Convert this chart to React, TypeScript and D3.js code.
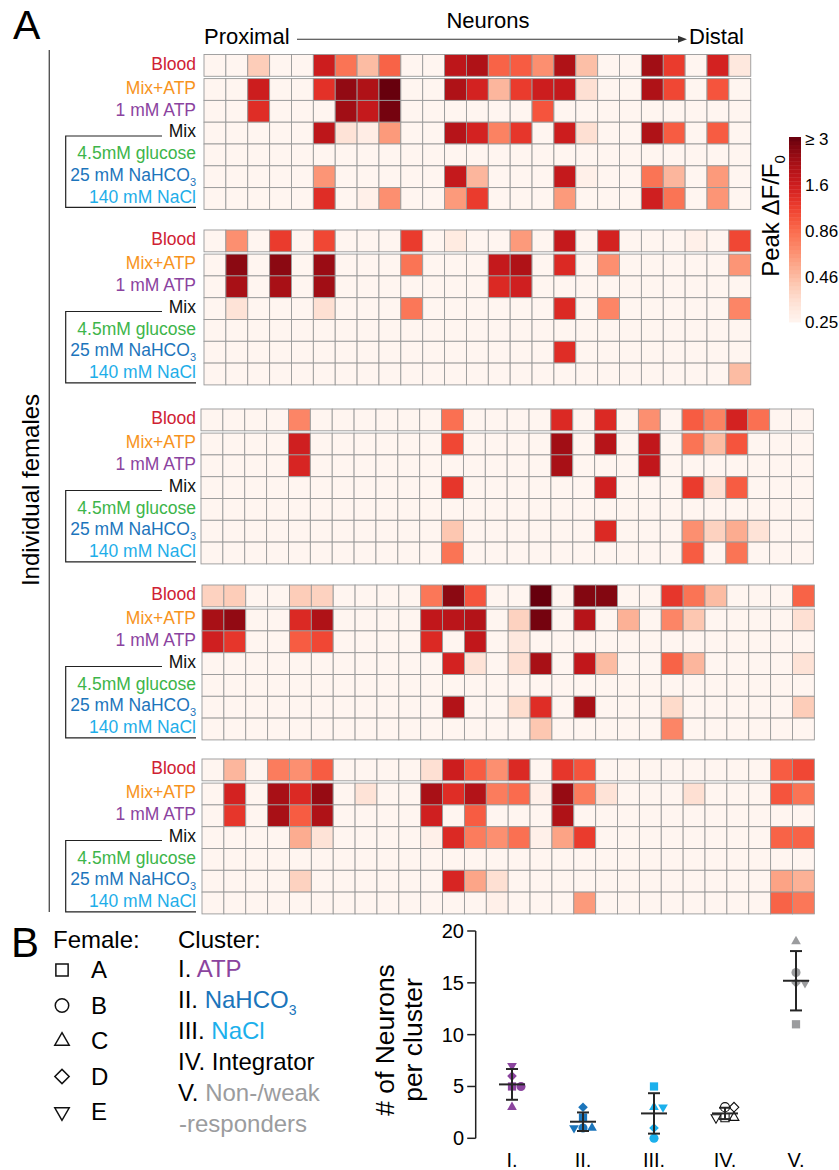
import React from 'react';
import * as d3 from 'd3';

// stimuli, top to bottom in every heatmap panel
const stimuli = ['Blood', 'Mix+ATP', '1 mM ATP', 'Mix', '4.5mM glucose', '25 mM NaHCO', '140 mM NaCl'];
const stimulusColors = ['#cf2133', '#f7941d', '#8b43a0', '#111111', '#3db54a', '#1c75bc', '#1eaee9'];

// peak dF/F0 of each neuron (0 = no response); rows follow `stimuli`
const femaleA = [
  [0, 0, 0.4, 0, 0, 1.6, 0.8, 0.46, 0.9, 0, 0, 1.8, 2.0, 0.9, 0.95, 0.65, 2.0, 0.45, 0, 0, 2.2, 1.2, 0, 1.5, 0.3],
  [0, 0, 1.6, 0, 0, 1.3, 2.4, 2.0, 3.0, 0, 0, 2.0, 1.5, 0.48, 1.2, 1.6, 1.7, 0.33, 0, 0, 2.0, 1.1, 0, 1.0, 0],
  [0, 0, 1.35, 0, 0, 0, 2.2, 1.7, 2.8, 0, 0, 0, 0, 0, 0, 1.0, 0, 0, 0, 0, 0, 0, 0, 0, 0],
  [0, 0, 0, 0, 0, 1.8, 0.32, 0.28, 0.6, 0, 0, 1.9, 1.5, 0.72, 1.25, 0, 1.6, 0.33, 0, 0, 2.0, 0.95, 0, 0.95, 0],
  [0, 0, 0, 0, 0, 0, 0, 0, 0, 0, 0, 0, 0, 0, 0, 0, 0, 0, 0, 0, 0, 0, 0, 0, 0],
  [0, 0, 0, 0, 0, 0.62, 0, 0, 0, 0, 0, 1.7, 0.48, 0, 0, 0, 1.7, 0.27, 0, 0, 0.8, 0.48, 0, 0.6, 0],
  [0, 0, 0, 0, 0, 1.35, 0, 0.27, 0.65, 0, 0, 0.6, 1.2, 0, 0, 0, 0.6, 0, 0, 0, 1.55, 0.8, 0, 0.62, 0],
];
const femaleB = [
  [0, 0.65, 0, 1.2, 0, 1.1, 0, 0, 0, 1.2, 0, 0.29, 0, 0, 0.6, 0, 1.7, 0, 1.5, 0, 0, 0, 0.27, 0, 1.1],
  [0, 2.5, 0, 2.5, 0, 2.3, 0, 0, 0, 0.8, 0, 0, 0, 1.7, 2.0, 0, 1.4, 0, 0.65, 0, 0, 0, 0, 0, 0.62],
  [0, 2.1, 0, 2.1, 0, 2.2, 0, 0, 0, 0, 0, 0, 0, 1.4, 1.55, 0, 0, 0, 0, 0, 0, 0, 0, 0, 0],
  [0, 0.32, 0, 0, 0, 0.33, 0, 0, 0, 0.78, 0, 0, 0, 0, 0, 0, 1.4, 0, 0.7, 0, 0, 0, 0, 0, 0.7],
  [0, 0, 0, 0, 0, 0, 0, 0, 0, 0, 0, 0, 0, 0, 0, 0, 0, 0, 0, 0, 0, 0, 0, 0, 0],
  [0, 0, 0, 0, 0, 0, 0, 0, 0, 0, 0, 0, 0, 0, 0, 0, 1.35, 0, 0, 0, 0, 0, 0, 0, 0],
  [0, 0, 0, 0, 0, 0, 0, 0, 0, 0, 0, 0, 0, 0, 0, 0, 0, 0, 0, 0, 0, 0, 0, 0, 0.46],
];
const femaleC = [
  [0, 0, 0, 0, 0.7, 0, 0, 0, 0, 0, 0, 0.82, 0, 0, 0, 0, 1.4, 0, 1.4, 0, 0.65, 0, 0.95, 0.72, 1.5, 0.82, 0, 0],
  [0, 0, 0, 0, 1.55, 0, 0, 0, 0, 0, 0, 1.1, 0, 0, 0, 0, 2.2, 0, 1.9, 0, 1.75, 0, 0.8, 0.46, 1.0, 0, 0, 0],
  [0, 0, 0, 0, 1.45, 0, 0, 0, 0, 0, 0, 0, 0, 0, 0, 0, 2.1, 0, 0, 0, 1.75, 0, 0, 0, 0, 0, 0, 0],
  [0, 0, 0, 0, 0, 0, 0, 0, 0, 0, 0, 1.25, 0, 0, 0, 0, 0, 0, 1.55, 0, 0, 0, 1.2, 0.33, 0.95, 0, 0, 0],
  [0, 0, 0, 0, 0, 0, 0, 0, 0, 0, 0, 0, 0, 0, 0, 0, 0, 0, 0, 0, 0, 0, 0, 0, 0, 0, 0, 0],
  [0, 0, 0, 0, 0, 0, 0, 0, 0, 0, 0, 0.42, 0, 0, 0, 0, 0, 0, 1.4, 0, 0, 0, 0.65, 0.38, 0.52, 0.32, 0, 0],
  [0, 0, 0, 0, 0, 0, 0, 0, 0, 0, 0, 0.8, 0, 0, 0, 0, 0, 0, 0, 0, 0, 0, 0.95, 0, 0.8, 0, 0, 0],
];
const femaleD = [
  [0.38, 0.4, 0, 0, 0.4, 0.38, 0, 0, 0, 0, 0.78, 2.5, 1.0, 0, 0, 3.0, 0, 2.6, 2.6, 0, 0, 1.25, 0.8, 0.46, 0, 0, 0, 0.9],
  [2.1, 2.4, 0, 0, 1.4, 2.0, 0, 0, 0, 0, 1.75, 1.85, 1.95, 0, 0.38, 2.8, 0, 1.9, 0, 0.5, 0, 0.7, 0.42, 0, 0, 0, 0, 0.33],
  [1.55, 1.25, 0, 0, 0.95, 1.1, 0, 0, 0, 0, 1.4, 0, 1.75, 0, 0.3, 0, 0, 0, 0, 0, 0, 0, 0, 0, 0, 0, 0, 0],
  [0, 0, 0, 0, 0, 0, 0, 0, 0, 0, 0, 1.5, 0.32, 0, 0.33, 2.1, 0, 1.75, 0.46, 0, 0, 0.9, 0.48, 0, 0, 0, 0, 0.32],
  [0, 0, 0, 0, 0, 0, 0, 0, 0, 0, 0, 0, 0, 0, 0, 0, 0, 0, 0, 0, 0, 0, 0, 0, 0, 0, 0, 0],
  [0, 0, 0, 0, 0, 0, 0, 0, 0, 0, 0, 1.95, 0, 0, 0.34, 1.35, 0, 2.1, 0, 0, 0, 0.35, 0, 0, 0, 0, 0, 0.4],
  [0, 0, 0, 0, 0, 0, 0, 0, 0, 0, 0, 0, 0, 0, 0, 0.42, 0, 0, 0, 0, 0, 0.7, 0, 0, 0, 0, 0, 0],
];
const femaleE = [
  [0, 0.48, 0, 0.75, 0.65, 0.95, 0, 0, 0, 0, 0.33, 1.6, 0.95, 0.65, 1.4, 0, 1.25, 1.0, 0, 0, 0, 0, 0, 0, 0, 0, 0.95, 1.1],
  [0, 1.5, 0, 2.1, 1.4, 2.35, 0, 0.32, 0, 0, 2.1, 1.35, 1.95, 0.75, 0.85, 0.27, 2.35, 0.75, 0.32, 0, 0, 0, 0.33, 0, 0, 0, 1.0, 0.8],
  [0, 1.25, 0, 2.1, 0.95, 2.0, 0, 0, 0, 0, 1.55, 0, 0.95, 0, 0, 0, 2.0, 0, 0, 0, 0, 0, 0, 0, 0, 0, 0, 0],
  [0, 0, 0, 0, 0.52, 0.32, 0, 0, 0, 0, 0.27, 1.4, 0.75, 0.65, 0.82, 0.27, 0.56, 1.2, 0, 0, 0, 0, 0, 0, 0, 0, 0.9, 0.9],
  [0, 0, 0, 0, 0, 0, 0, 0, 0, 0, 0, 0, 0, 0, 0, 0, 0, 0, 0, 0, 0, 0, 0, 0, 0, 0, 0, 0],
  [0, 0, 0, 0, 0.38, 0, 0, 0, 0, 0, 0, 1.45, 0.55, 0.33, 0, 0, 0, 0, 0, 0, 0, 0, 0, 0, 0, 0, 0.56, 0.5],
  [0, 0, 0, 0, 0, 0, 0, 0, 0, 0, 0, 0, 0, 0.27, 0, 0, 0, 0.6, 0, 0, 0, 0, 0, 0, 0, 0, 0.9, 0.78],
];
const females = [femaleA, femaleB, femaleC, femaleD, femaleE];

// colour bar
const peakTicks = [0.25, 0.46, 0.86, 1.6, 3];
const peakTickLabels = ['0.25', '0.46', '0.86', '1.6', '\u2265 3'];

// panel B: neurons per cluster for females A..E
const femaleNames = ['A', 'B', 'C', 'D', 'E'];
const clusters = ['I.', 'II.', 'III.', 'IV.', 'V.'];
const atpCounts = [5, 5, 3, 6, 7];
const nahco3Counts = [2, 1, 1, 3, 1];
const naclCounts = [5, 0, 3, 1, 3];
const integratorCounts = [2, 3, 2, 3, 2];
const nonResponderCounts = [11, 16, 19, 15, 15];
const clusterCounts = [atpCounts, nahco3Counts, naclCounts, integratorCounts, nonResponderCounts];
const clusterColors = ['#8b449e', '#1b75bb', '#1cb0ec', '#111111', '#9b9c9e'];
const countTicks = [0, 5, 10, 15, 20];

const FONT = 'Liberation Sans, Arial, Helvetica, sans-serif';
const CW = 21.87;
const RH = 21.8;
const GAP = 2.3;
const panelX = [204, 204, 201, 202, 202];
const panelY = [54.5, 230, 409, 585, 759];

const peakScale = d3.scaleLog().domain([0.25, 3]).range([0, 1]).clamp(true);
const cellColor = (v: number) => d3.interpolateReds(v <= 0.25 ? 0 : peakScale(v));

const shapes = [
  { type: d3.symbolSquare, rot: 0, k: 1 },
  { type: d3.symbolCircle, rot: 0, k: 0.95 },
  { type: d3.symbolTriangle, rot: 0, k: 0.6 },
  { type: d3.symbolSquare, rot: 45, k: 0.68 },
  { type: d3.symbolTriangle, rot: 180, k: 0.6 },
];

function Panel({ data, x0, y0 }: { data: number[][]; x0: number; y0: number }) {
  const n = data[0].length;
  const x = d3.scaleBand<number>().domain(d3.range(n)).range([x0, x0 + n * CW]);
  const y = d3.scaleBand<number>().domain(d3.range(stimuli.length)).range([y0, y0 + stimuli.length * RH]);
  const rowTop = (i: number) => (y(i) as number) + (i > 0 ? GAP : 0);
  const bracketTop = rowTop(3) + 13.8;
  const bracketBottom = rowTop(6) + RH - 2;
  return (
    <g>
      {data.map((row, i) =>
        row.map((v, j) => (
          <rect key={`${i}-${j}`} x={x(j)} y={rowTop(i)} width={x.bandwidth()} height={RH}
            fill={cellColor(v)} stroke="#999" strokeWidth={0.9} />
        ))
      )}
      {stimuli.map((s, i) => (
        <text key={s} x={196} y={rowTop(i) + RH / 2 + 4.2} textAnchor="end" fontSize={17.5}
          fill={stimulusColors[i]}>
          {s}
          {i === 5 && <tspan fontSize={11} dy={5}>3</tspan>}
        </text>
      ))}
      <path d={`M162,${bracketTop}H65.7V${bracketBottom}H196`} fill="none" stroke="#222" strokeWidth={1.2} />
    </g>
  );
}

function dodge(values: number[], y: (v: number) => number, step: number) {
  const placed: { dx: number; cy: number }[] = [];
  return values.map((v) => {
    const cy = y(v);
    for (const k of [0, 1, -1, 2, -2]) {
      const dx = k * step;
      const hit = placed.some((p) => Math.abs(p.dx - dx) < step * 0.9 && Math.abs(p.cy - cy) < step * 0.9);
      if (!hit) {
        placed.push({ dx, cy });
        return dx;
      }
    }
    return 0;
  });
}

export default function App() {
  // colour bar
  const cbY = d3.scaleLog().domain([0.25, 3]).range([322, 139]);
  const bands = d3.range(46);
  const barTop = 137;
  const barBottom = 322;
  const bandH = (barBottom - barTop) / bands.length;

  // scatter
  const y = d3.scaleLinear().domain([0, 20]).range([1138.3, 931]);
  const x = d3.scalePoint<string>().domain(clusters).range([512, 796]);
  const axisX = 475.7;

  return (
    <svg width={839} height={1170} style={{ position: 'absolute', left: 0, top: 0, background: '#fff' }}
      fontFamily={FONT}>
      {/* panel A header */}
      <text x={13} y={39} fontSize={41}>A</text>
      <text x={204} y={44} fontSize={22}>Proximal</text>
      <text x={488} y={28} fontSize={22} textAnchor="middle">Neurons</text>
      <text x={689} y={44} fontSize={22}>Distal</text>
      <line x1={297} x2={680} y1={39.3} y2={39.3} stroke="#333" strokeWidth={1.1} />
      <path d="M687,39.3L678,35.8L678,42.8Z" fill="#333" />

      <line x1={49.3} x2={49.3} y1={50} y2={912} stroke="#555" strokeWidth={1.4} />
      <text transform="translate(39,490) rotate(-90)" textAnchor="middle" fontSize={24}>Individual females</text>

      {females.map((data, i) => (
        <Panel key={i} data={data} x0={panelX[i]} y0={panelY[i]} />
      ))}

      {/* colour bar */}
      {bands.map((b) => (
        <rect key={b} x={789} width={12} y={barBottom - (b + 1) * bandH} height={bandH + 0.4}
          fill={d3.interpolateReds((b + 0.5) / bands.length)} />
      ))}
      {peakTicks.map((t, i) => (
        <text key={t} x={805} y={cbY(t) + 6} fontSize={17}>{peakTickLabels[i]}</text>
      ))}
      <text transform="translate(779,216) rotate(-90)" textAnchor="middle" fontSize={24}>
        Peak  ΔF/F<tspan fontSize={15} dy={6}>0</tspan>
      </text>

      {/* panel B legends */}
      <text x={11} y={957} fontSize={42}>B</text>
      <text x={53} y={948} fontSize={24}>Female:</text>
      {femaleNames.map((f, i) => {
        const cy = 970 + i * 35.5;
        const s = shapes[i];
        return (
          <g key={f}>
            <path d={d3.symbol().type(s.type).size(150 * s.k)() as string}
              transform={`translate(62,${cy}) rotate(${s.rot})`} fill="#fff" stroke="#111" strokeWidth={1.5} />
            <text x={91} y={cy + 8} fontSize={24}>{f}</text>
          </g>
        );
      })}
      <text x={178} y={948} fontSize={24}>Cluster:</text>
      <g fontSize={24}>
        <text x={178} y={977}>I. <tspan fill={clusterColors[0]}>ATP</tspan></text>
        <text x={178} y={1008}>II. <tspan fill={clusterColors[1]}>NaHCO<tspan fontSize={14} dy={7}>3</tspan></tspan></text>
        <text x={178} y={1039}>III. <tspan fill={clusterColors[2]}>NaCl</tspan></text>
        <text x={178} y={1070}>IV. Integrator</text>
        <text x={178} y={1101}>V. <tspan fill={clusterColors[4]}>Non-/weak</tspan></text>
        <text x={179} y={1132} fill={clusterColors[4]}>-responders</text>
      </g>

      {/* scatter axis */}
      <line x1={axisX} x2={axisX} y1={y(20)} y2={y(0)} stroke="#222" strokeWidth={1.5} />
      {countTicks.map((t) => (
        <g key={t}>
          <line x1={axisX - 8.5} x2={axisX} y1={y(t)} y2={y(t)} stroke="#222" strokeWidth={1.5} />
          <text x={464} y={y(t) + 7} fontSize={20} textAnchor="end">{t}</text>
        </g>
      ))}
      <text transform="translate(394,1040) rotate(-90)" textAnchor="middle" fontSize={26.5}># of Neurons</text>
      <text transform="translate(422,1040) rotate(-90)" textAnchor="middle" fontSize={26.5}>per cluster</text>
      {clusters.map((c) => (
        <text key={c} x={x(c)} y={1167} fontSize={20} textAnchor="middle">{c}</text>
      ))}

      {/* scatter points with mean ± SD */}
      {clusters.map((c, ci) => {
        const vals = clusterCounts[ci];
        const cx = x(c) as number;
        const m = d3.mean(vals) as number;
        const sd = d3.deviation(vals) as number;
        const offs = dodge(vals, y, 9);
        const hollow = ci === 3;
        return (
          <g key={c}>
            {vals.map((v, i) => {
              const s = shapes[i];
              return (
                <path key={i} d={d3.symbol().type(s.type).size(68 * s.k)() as string}
                  transform={`translate(${cx + offs[i]},${y(v)}) rotate(${s.rot})`}
                  fill={hollow ? 'none' : clusterColors[ci]} stroke={hollow ? '#111' : 'none'} strokeWidth={1.1} />
              );
            })}
            <g stroke="#262626" strokeWidth={2}>
              <line x1={cx} x2={cx} y1={y(m - sd)} y2={y(m + sd)} />
              <line x1={cx - 13} x2={cx + 13} y1={y(m)} y2={y(m)} />
              <line x1={cx - 6} x2={cx + 6} y1={y(m - sd)} y2={y(m - sd)} />
              <line x1={cx - 6} x2={cx + 6} y1={y(m + sd)} y2={y(m + sd)} />
            </g>
          </g>
        );
      })}
    </svg>
  );
}
